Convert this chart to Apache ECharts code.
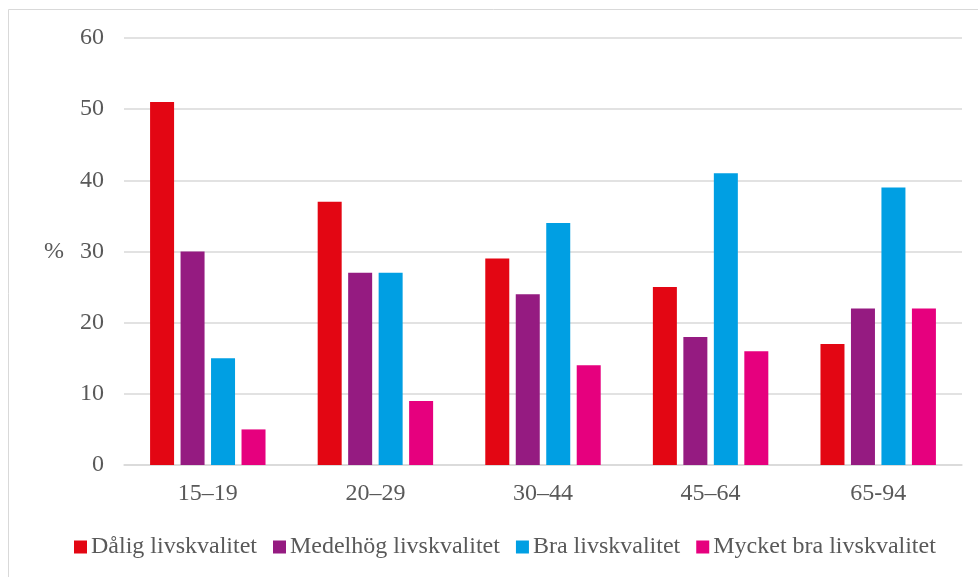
<!DOCTYPE html>
<html>
<head>
<meta charset="utf-8">
<script src="https://cdn.jsdelivr.net/npm/echarts@6/dist/echarts.min.js"></script>
<style>
  html, body { margin: 0; padding: 0; background: #ffffff; }
  #chart { width: 978px; height: 577px; }
</style>
</head>
<body>
<div id="chart"></div>
<script>
var categories = ['15\u201319', '20\u201329', '30\u201344', '45\u201364', '65-94'];
var seriesNames = ['Dålig livskvalitet', 'Medelhög livskvalitet', 'Bra livskvalitet', 'Mycket bra livskvalitet'];
var dalig = [51, 37, 29, 25, 17];
var medelhog = [30, 27, 24, 18, 22];
var bra = [15, 27, 34, 41, 39];
var mycketBra = [5, 9, 14, 16, 22];
var colors = ['#E30613', '#951B81', '#009FE3', '#E6007E'];

var seriesData = [dalig, medelhog, bra, mycketBra];
var FONT = '"Liberation Serif", "Times New Roman", serif';
var TEXT = '#595959';

var chart = echarts.init(document.getElementById('chart'), null, { renderer: 'canvas' });
chart.setOption({
  animation: false,
  backgroundColor: '#ffffff',
  textStyle: { fontFamily: FONT, color: TEXT },
  graphic: [{
    type: 'rect',
    shape: { x: 8.5, y: 9.5, width: 1200, height: 1200 },
    style: { fill: 'none', stroke: '#d9d9d9', lineWidth: 1 },
    silent: true
  }],
  grid: { left: 124, right: 16, top: 38, bottom: 112, containLabel: false },
  legend: {
    bottom: 13,
    left: 69,
    padding: 5,
    itemWidth: 13,
    itemHeight: 13,
    itemGap: 16,
    icon: 'rect',
    textStyle: { fontFamily: FONT, fontSize: 24, color: TEXT, padding: [0, 0, 0, -1] },
    data: seriesNames
  },
  xAxis: {
    type: 'category',
    data: categories,
    axisLine: { show: true, lineStyle: { color: '#d9d9d9', width: 1.5 } },
    axisTick: { show: false },
    axisLabel: { fontFamily: FONT, fontSize: 24, color: TEXT, margin: 17 }
  },
  yAxis: {
    type: 'value',
    min: 0,
    max: 60,
    interval: 10,
    name: '%',
    nameLocation: 'middle',
    nameRotate: 0,
    nameGap: 60,
    nameTextStyle: { fontFamily: FONT, fontSize: 24, color: TEXT },
    axisLine: { show: false },
    axisTick: { show: false },
    axisLabel: { fontFamily: FONT, fontSize: 24, color: TEXT, margin: 20 },
    splitLine: { lineStyle: { color: '#d9d9d9', width: 1.5 } }
  },
  series: seriesNames.map(function (name, i) {
    return {
      name: name,
      type: 'bar',
      data: seriesData[i],
      barWidth: 24,
      barGap: '27%',
      itemStyle: { color: colors[i] }
    };
  })
});
</script>
</body>
</html>
